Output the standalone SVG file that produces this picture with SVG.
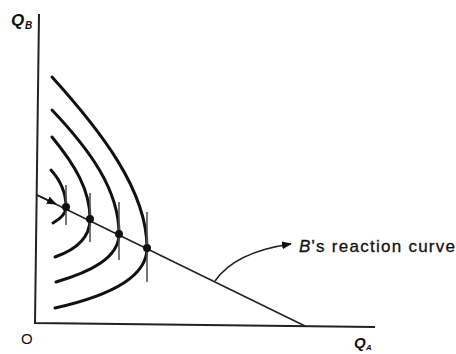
<svg xmlns="http://www.w3.org/2000/svg" width="456" height="354" viewBox="0 0 456 354">
<style>
.ax{stroke:#222;stroke-width:2;fill:none}
.cv{stroke:#111;stroke-width:3;fill:none;stroke-linecap:round}
.rl{stroke:#222;stroke-width:1.6;fill:none}
.tk{stroke:#555;stroke-width:1.6}
.dot{fill:#111}
.lbl{font-family:"Liberation Sans",Arial,sans-serif;fill:#111}
</style>
<defs>
<marker id="ah" markerWidth="10" markerHeight="8" refX="9" refY="4" orient="auto" markerUnits="userSpaceOnUse">
<path d="M0,0 L10,4 L0,8 Z" fill="#111"/>
</marker>
</defs>
<rect width="456" height="354" fill="#fff"/>
<g id="axes">
<path class="ax" d="M39,14 L35,323 L375,327"/>
</g>
<g id="labels">
<text class="lbl" x="11" y="26" font-size="17" font-style="italic" font-weight="bold">Q</text>
<text class="lbl" x="25" y="29" font-size="10" font-style="italic" font-weight="bold">B</text>
<text class="lbl" x="21" y="344" font-size="15">O</text>
<text class="lbl" x="354" y="348" font-size="15" font-style="italic" font-weight="bold">Q</text>
<text class="lbl" x="366" y="350" font-size="8" font-style="italic" font-weight="bold">A</text>
<text class="lbl" x="299" y="252" font-size="17" textLength="156" lengthAdjust="spacing" stroke="#111" stroke-width="0.3"><tspan font-style="italic">B</tspan>'s reaction curve</text>
</g>
<g id="curves">
<path class="cv" d="M52,77 C100,130 147,190 147,248 C147,280 100,298 55,308"/>
<path class="cv" d="M52,110 C90,150 119,190 119,234 C119,258 90,272 56,282"/>
<path class="cv" d="M52,137 C75,165 90,190 90,219 C90,238 75,250 55,257"/>
<path class="cv" d="M51,170 C60,180 66,193 66,207 C66,214 60,219 53,223"/>
</g>
<g id="connectors">
<path class="rl" d="M37,195 L305,326"/>
<path class="rl" d="M37,195 L56,204" marker-end="url(#ah)"/>
<path class="rl" d="M215,281 Q235,252 291,244" marker-end="url(#ah)"/>
</g>
<g id="ticks">
<line class="tk" x1="66" y1="185" x2="66" y2="225"/>
<line class="tk" x1="90" y1="193" x2="90" y2="242"/>
<line class="tk" x1="119" y1="202" x2="119" y2="260"/>
<line class="tk" x1="147" y1="212" x2="147" y2="282"/>
</g>
<g id="points">
<circle class="dot" cx="66" cy="207" r="4"/>
<circle class="dot" cx="90" cy="219" r="4"/>
<circle class="dot" cx="119" cy="234" r="4"/>
<circle class="dot" cx="147" cy="248" r="4"/>
</g>
</svg>
